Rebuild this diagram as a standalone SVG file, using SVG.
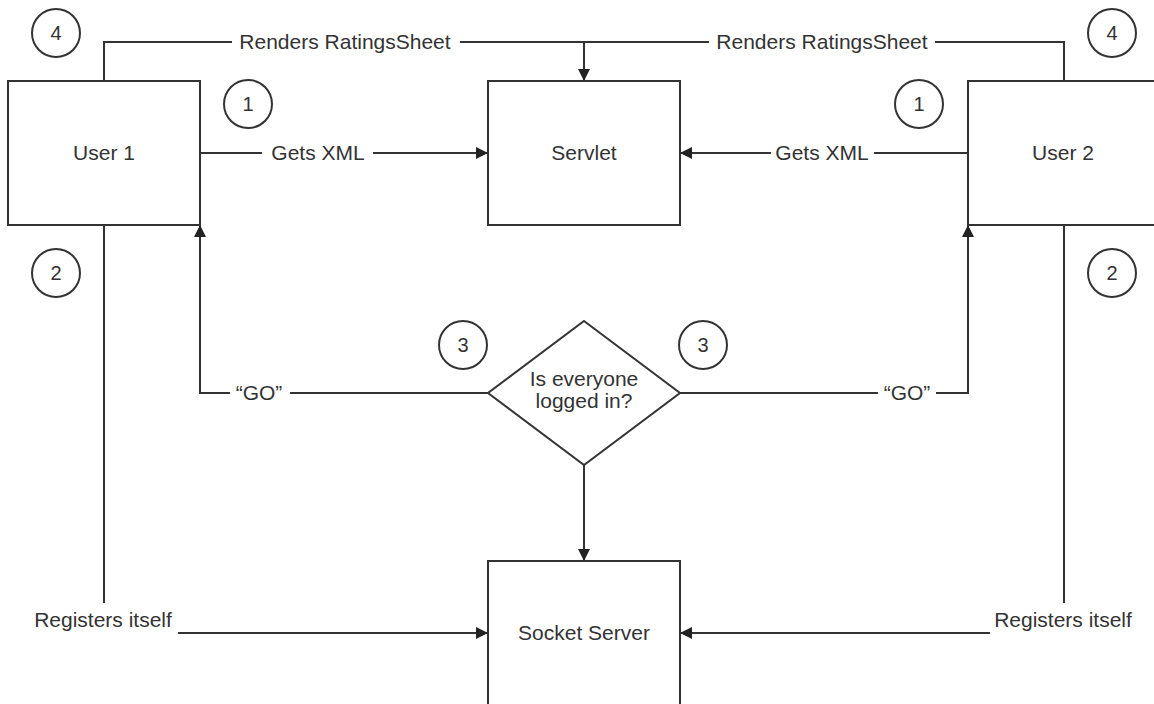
<svg xmlns="http://www.w3.org/2000/svg" width="1154" height="704" viewBox="0 0 1154 704">
  <defs>
    <marker id="arrow" viewBox="0 0 12 12" refX="12" refY="6" markerWidth="12" markerHeight="12" markerUnits="userSpaceOnUse" orient="auto">
      <path d="M0,0 L12,6 L0,12 Z" fill="#222"/>
    </marker>
    <style>
      .box { fill: #fff; stroke: #333; stroke-width: 2; }
      .badge { fill: #fff; stroke: #333; stroke-width: 2; }
      .wire { fill: none; stroke: #333; stroke-width: 2; }
      .lbl { font-family: "Liberation Sans", Arial, sans-serif; font-size: 21px; fill: #333; text-anchor: middle; }
      .num { font-family: "Liberation Sans", Arial, sans-serif; font-size: 20px; fill: #333; text-anchor: middle; }
    </style>
  </defs>
  <rect width="1154" height="704" fill="#fff"/>

  <!-- connectors -->
  <g id="connectors">
    <!-- renders ratings sheet (top) -->
    <polyline class="wire" points="104,81 104,42 232,42"/>
    <line class="wire" x1="460" y1="42" x2="709" y2="42"/>
    <polyline class="wire" points="935,42 1064,42 1064,81"/>
    <line class="wire" x1="584" y1="42" x2="584" y2="81" marker-end="url(#arrow)"/>
    <text class="lbl" x="345" y="49">Renders RatingsSheet</text>
    <text class="lbl" x="822" y="49">Renders RatingsSheet</text>

    <!-- gets XML -->
    <line class="wire" x1="200" y1="153" x2="262" y2="153"/>
    <line class="wire" x1="373" y1="153" x2="488" y2="153" marker-end="url(#arrow)"/>
    <text class="lbl" x="318" y="160">Gets XML</text>
    <line class="wire" x1="968" y1="153" x2="874" y2="153"/>
    <line class="wire" x1="771" y1="153" x2="680" y2="153" marker-end="url(#arrow)"/>
    <text class="lbl" x="822" y="160">Gets XML</text>

    <!-- "GO" returns -->
    <line class="wire" x1="488" y1="393" x2="290" y2="393"/>
    <polyline class="wire" points="230,393 200,393 200,225" marker-end="url(#arrow)"/>
    <text class="lbl" x="259" y="400">“GO”</text>
    <line class="wire" x1="680" y1="393" x2="878" y2="393"/>
    <polyline class="wire" points="936,393 968,393 968,225" marker-end="url(#arrow)"/>
    <text class="lbl" x="907" y="400">“GO”</text>

    <!-- decision to socket server -->
    <line class="wire" x1="584" y1="465" x2="584" y2="561" marker-end="url(#arrow)"/>

    <!-- registers itself -->
    <line class="wire" x1="104" y1="225" x2="104" y2="603"/>
    <line class="wire" x1="178" y1="633" x2="488" y2="633" marker-end="url(#arrow)"/>
    <text class="lbl" x="103" y="627">Registers itself</text>
    <line class="wire" x1="1064" y1="225" x2="1064" y2="603"/>
    <line class="wire" x1="990" y1="633" x2="680" y2="633" marker-end="url(#arrow)"/>
    <text class="lbl" x="1063" y="627">Registers itself</text>
  </g>

  <!-- nodes -->
  <g id="user1">
    <rect class="box" x="8" y="81" width="192" height="144"/>
    <text class="lbl" x="104" y="160">User 1</text>
  </g>
  <g id="servlet">
    <rect class="box" x="488" y="81" width="192" height="144"/>
    <text class="lbl" x="584" y="160">Servlet</text>
  </g>
  <g id="user2">
    <rect class="box" x="968" y="81" width="192" height="144"/>
    <text class="lbl" x="1063" y="160">User 2</text>
  </g>
  <g id="decision">
    <polygon class="box" points="584,321 680,393 584,465 488,393"/>
    <text class="lbl" x="584" y="386">Is everyone</text>
    <text class="lbl" x="584" y="408">logged in?</text>
  </g>
  <g id="socket-server">
    <rect class="box" x="488" y="561" width="192" height="144"/>
    <text class="lbl" x="584" y="640">Socket Server</text>
  </g>

  <!-- step badges -->
  <g id="step4-left"><circle class="badge" cx="56" cy="33" r="24"/><text class="num" x="56" y="40">4</text></g>
  <g id="step4-right"><circle class="badge" cx="1112" cy="33" r="24"/><text class="num" x="1112" y="40">4</text></g>
  <g id="step1-left"><circle class="badge" cx="248" cy="104" r="24"/><text class="num" x="248" y="111">1</text></g>
  <g id="step1-right"><circle class="badge" cx="919" cy="104" r="24"/><text class="num" x="919" y="111">1</text></g>
  <g id="step2-left"><circle class="badge" cx="56" cy="273" r="24"/><text class="num" x="56" y="280">2</text></g>
  <g id="step2-right"><circle class="badge" cx="1112" cy="273" r="24"/><text class="num" x="1112" y="280">2</text></g>
  <g id="step3-left"><circle class="badge" cx="463" cy="345" r="24"/><text class="num" x="463" y="352">3</text></g>
  <g id="step3-right"><circle class="badge" cx="703" cy="345" r="24"/><text class="num" x="703" y="352">3</text></g>
</svg>
